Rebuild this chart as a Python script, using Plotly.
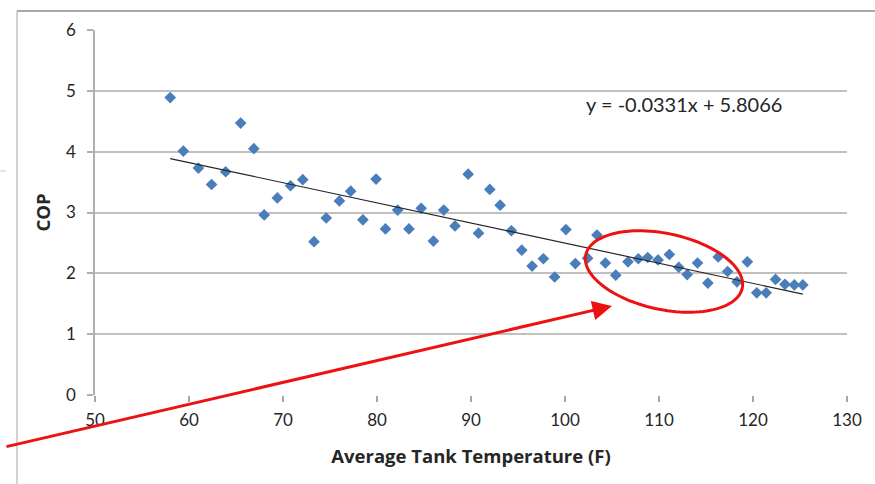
import numpy as np
import plotly.graph_objects as go

# Average tank temperature (F) and measured COP
tank_temp_f = [58.0, 59.4, 61.0, 62.4, 63.9, 65.5, 66.9, 68.0, 69.4, 70.8,
               72.1, 73.3, 74.6, 76.0, 77.2, 78.5, 79.9, 80.9, 82.2, 83.4,
               84.7, 86.0, 87.1, 88.3, 89.7, 90.8, 92.0, 93.1, 94.3, 95.4,
               96.5, 97.7, 98.9, 100.1, 101.1, 102.4, 103.4, 104.3, 105.4, 106.7,
               107.8, 108.8, 109.9, 111.1, 112.1, 113.0, 114.1, 115.2, 116.3, 117.3,
               118.3, 119.4, 120.4, 121.4, 122.4, 123.4, 124.4, 125.3]
cop = [4.89, 4.01, 3.73, 3.46, 3.67, 4.47, 4.05, 2.96, 3.24, 3.44,
       3.54, 2.52, 2.91, 3.19, 3.35, 2.88, 3.55, 2.73, 3.04, 2.73,
       3.07, 2.53, 3.04, 2.78, 3.63, 2.66, 3.38, 3.12, 2.70, 2.38,
       2.12, 2.24, 1.94, 2.72, 2.16, 2.25, 2.63, 2.17, 1.97, 2.19,
       2.24, 2.26, 2.22, 2.31, 2.10, 1.98, 2.17, 1.84, 2.27, 2.03,
       1.86, 2.19, 1.68, 1.68, 1.90, 1.82, 1.81, 1.81]

# Linear trendline coefficients
slope = -0.0331
intercept = 5.8066

x_ticks = [50, 60, 70, 80, 90, 100, 110, 120, 130]
y_ticks = [0, 1, 2, 3, 4, 5, 6]

W, H = 875, 484
ML, MR, MT, MB = 95, 28, 30, 89
PW, PH = W - ML - MR, H - MT - MB


def px_to_paper(px, py):
    return (px - ML) / PW, (H - MB - py) / PH


trend_x = np.array([min(tank_temp_f), max(tank_temp_f)])
trend_y = slope * trend_x + intercept

fig = go.Figure()
fig.add_trace(go.Scatter(
    x=tank_temp_f, y=cop, mode="markers",
    marker=dict(symbol="diamond", size=9, color="#4a7ebb", line=dict(width=0)),
    showlegend=False, cliponaxis=False,
))
fig.add_trace(go.Scatter(
    x=trend_x, y=trend_y, mode="lines",
    line=dict(color="#262626", width=1.2), showlegend=False,
))

FONT = "Lato, Open Sans, sans-serif"
TITLE_FONT = "Open Sans, sans-serif"
tick_font = dict(family=FONT, size=17, color="#262626")
title_font = dict(family=TITLE_FONT, size=18.5, color="#262626")

fig.update_xaxes(
    range=[50, 130], tickvals=x_ticks, ticktext=[str(v) for v in x_ticks],
    showgrid=False, zeroline=False, showline=False,
    ticks="outside", ticklen=6, tickcolor="#a6a6a6", tickwidth=1.5,
    tickfont=tick_font, ticklabelstandoff=4,
    title=dict(text="<b>Average Tank Temperature (F)</b>", font=title_font, standoff=20),
)
fig.update_yaxes(
    range=[0, 6], tickvals=y_ticks, ticktext=[str(v) for v in y_ticks],
    showgrid=True, gridcolor="#c0c0c0", gridwidth=2, zeroline=False,
    showline=True, linecolor="#b0b0b0", linewidth=1.5,
    ticks="outside", ticklen=6, tickcolor="#b0b0b0", tickwidth=1.5,
    tickfont=tick_font, ticklabelstandoff=8,
    title=dict(text="<b>COP</b>", font=title_font, standoff=10),
)

# Trendline equation label
eq_x, eq_y = px_to_paper(684, 104)
fig.add_annotation(
    x=eq_x, y=eq_y, xref="paper", yref="paper", xanchor="center", yanchor="middle",
    text=f"y = {slope}x + {intercept}", showarrow=False,
    font=dict(family=FONT, size=20, color="#262626"),
)

# Red ellipse highlighting the high-temperature cluster
cx, cy, a, b, th = 664, 271.5, 80, 38, np.radians(12)
t = np.linspace(0, 2 * np.pi, 120)
ex = cx + a * np.cos(t) * np.cos(th) - b * np.sin(t) * np.sin(th)
ey = cy + a * np.cos(t) * np.sin(th) + b * np.sin(t) * np.cos(th)
pts = [px_to_paper(x, y) for x, y in zip(ex, ey)]
path = "M " + " L ".join(f"{p[0]:.5f},{p[1]:.5f}" for p in pts) + " Z"
fig.add_shape(type="path", path=path, xref="paper", yref="paper",
              line=dict(color="#ee1111", width=3))

# Red arrow pointing at the ellipse
tip_x, tip_y = px_to_paper(612, 306)
fig.add_annotation(
    x=tip_x, y=tip_y, xref="paper", yref="paper", ax=-607, ay=141,
    text="", showarrow=True, arrowhead=2, arrowsize=1.3, arrowwidth=3,
    arrowcolor="#ee1111",
)

# Outer frame lines
x0, y0 = px_to_paper(17, 11)
x1, _ = px_to_paper(875, 11)
_, yb = px_to_paper(17, 484)
fig.add_shape(type="line", xref="paper", yref="paper", x0=x0, y0=y0, x1=x1, y1=y0,
              line=dict(color="#8c8c8c", width=1.5))
fig.add_shape(type="line", xref="paper", yref="paper", x0=x0, y0=y0, x1=x0, y1=yb,
              line=dict(color="#b5b5b5", width=1.2))
sx0, sy = px_to_paper(0, 171)
sx1, _ = px_to_paper(6, 171)
fig.add_shape(type="line", xref="paper", yref="paper", x0=sx0, y0=sy, x1=sx1, y1=sy,
              line=dict(color="#c8c8c8", width=1))

fig.update_layout(
    width=W, height=H, autosize=False,
    margin=dict(l=ML, r=MR, t=MT, b=MB),
    paper_bgcolor="white", plot_bgcolor="white",
)

fig.write_html("out.html")
